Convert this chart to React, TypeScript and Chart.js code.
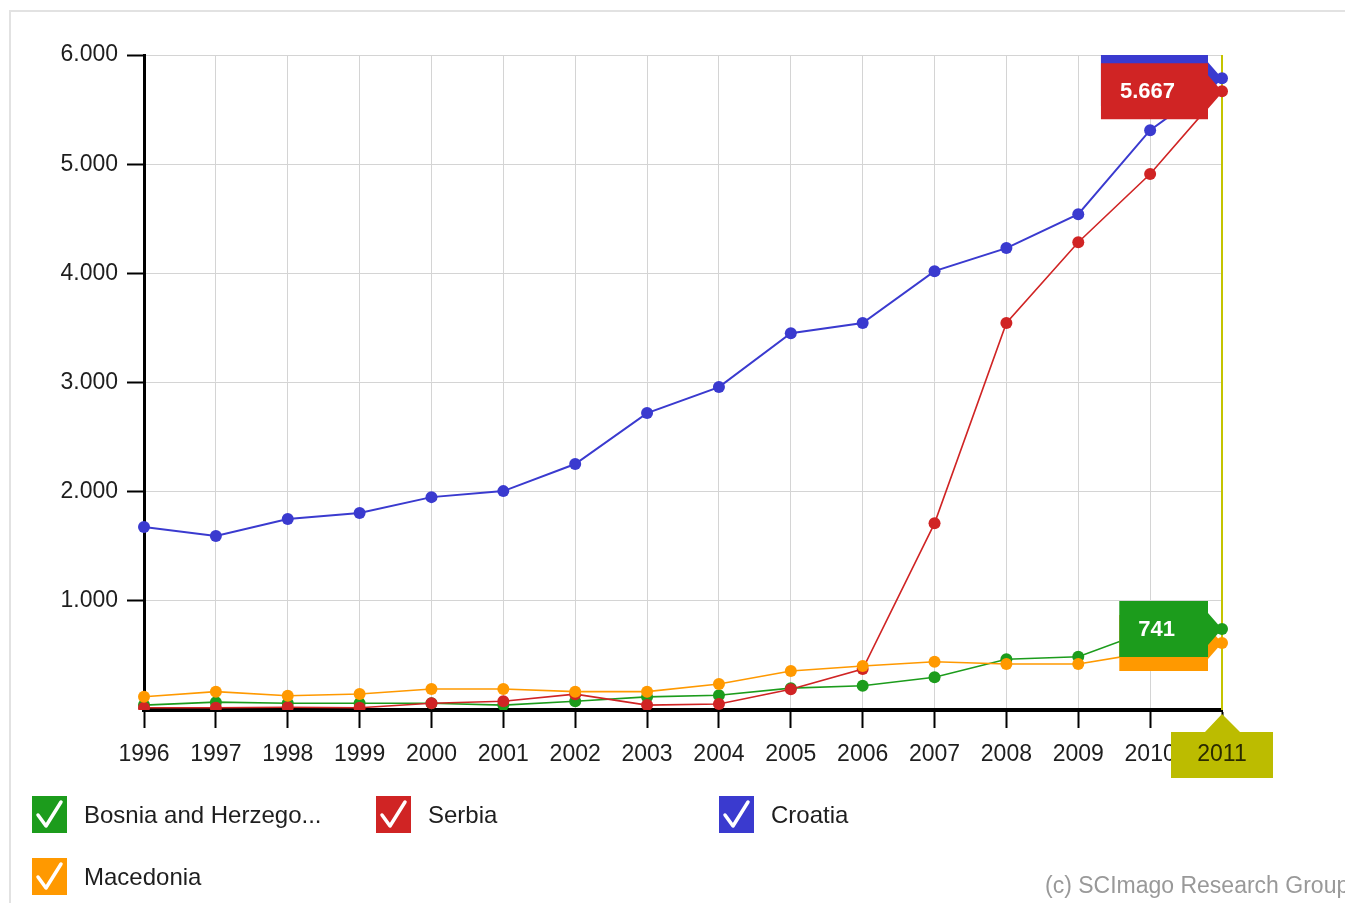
import { useEffect, useRef } from "react";
import { Chart, registerables } from "chart.js";

Chart.register(...registerables);

const years = ["1996", "1997", "1998", "1999", "2000", "2001", "2002", "2003", "2004", "2005", "2006", "2007", "2008", "2009", "2010", "2011"];
const bosnia = [45, 72, 62, 62, 62, 45, 80, 120, 135, 200, 222, 300, 465, 488, 730, 741];
const serbia = [20, 20, 25, 20, 62, 80, 145, 45, 55, 190, 375, 1710, 3545, 4285, 4910, 5667];
const croatia = [1676, 1593, 1749, 1804, 1950, 2005, 2253, 2720, 2958, 3452, 3544, 4020, 4231, 4542, 5311, 5788];
const macedonia = [122, 168, 131, 146, 192, 192, 168, 168, 238, 357, 403, 442, 421, 421, 530, 613];
const yTicks = [1000, 2000, 3000, 4000, 5000, 6000];

const GREEN = "#1c9c1c";
const RED = "#d02424";
const BLUE = "#3a3acf";
const ORANGE = "#ff9900";
const OLIVE = "#bcbc00";
const FONT = "'Liberation Sans', Arial, sans-serif";

const legendItems = [
  { label: "Bosnia and Herzego...", color: GREEN, left: 32, top: 796 },
  { label: "Serbia", color: RED, left: 376, top: 796 },
  { label: "Croatia", color: BLUE, left: 719, top: 796 },
  { label: "Macedonia", color: ORANGE, left: 32, top: 858 },
];

// 5667 -> "5.667"
const fmt = (v) => {
  const s = String(Math.round(v));
  return s.replace(/\B(?=(\d{3})+(?!\d))/g, ".");
};

// tag boxes at the last year, drawn in this order
const tagOrder = [2, 1, 3, 0];

const lastYearPlugin = {
  id: "lastYear",
  beforeDatasetsDraw(chart) {
    const { ctx, chartArea } = chart;
    const x = chart.scales.x.getPixelForValue(years.length - 1);
    ctx.save();
    ctx.strokeStyle = "#c4c400";
    ctx.lineWidth = 2;
    ctx.beginPath();
    ctx.moveTo(x, chartArea.top);
    ctx.lineTo(x, chartArea.bottom);
    ctx.stroke();
    ctx.restore();
  },
  afterDatasetsDraw(chart) {
    const { ctx, chartArea } = chart;
    const idx = years.length - 1;
    const x = chart.scales.x.getPixelForValue(idx);
    ctx.save();
    ctx.beginPath();
    ctx.rect(chartArea.left, chartArea.top, chartArea.width + 30, chartArea.height);
    ctx.clip();
    ctx.font = "bold 22px " + FONT;
    ctx.textAlign = "center";
    ctx.textBaseline = "middle";
    tagOrder.forEach((i) => {
      const ds = chart.data.datasets[i];
      const pt = chart.getDatasetMeta(i).data[idx];
      const y = pt.y;
      const text = fmt(ds.data[idx]);
      const w = ctx.measureText(text).width + 52;
      const right = x - 14;
      const left = right - w;
      ctx.fillStyle = ds.borderColor;
      ctx.beginPath();
      ctx.moveTo(left, y - 28);
      ctx.lineTo(right, y - 28);
      ctx.lineTo(right, y - 16);
      ctx.lineTo(x, y);
      ctx.lineTo(right, y + 16);
      ctx.lineTo(right, y + 28);
      ctx.lineTo(left, y + 28);
      ctx.closePath();
      ctx.fill();
      ctx.fillStyle = "#fff";
      ctx.fillText(text, left + w / 2 - 7, y + 1);
    });
    ctx.restore();
  },
  afterDraw(chart) {
    const { ctx, chartArea } = chart;
    const idx = years.length - 1;
    const x = chart.scales.x.getPixelForValue(idx);
    const top = chartArea.bottom + 22;
    ctx.save();
    ctx.fillStyle = OLIVE;
    ctx.beginPath();
    ctx.moveTo(x - 51, top);
    ctx.lineTo(x - 17, top);
    ctx.lineTo(x, chartArea.bottom + 4);
    ctx.lineTo(x + 18, top);
    ctx.lineTo(x + 51, top);
    ctx.lineTo(x + 51, top + 46);
    ctx.lineTo(x - 51, top + 46);
    ctx.closePath();
    ctx.fill();
    ctx.fillStyle = "#2a2a00";
    ctx.font = "23px " + FONT;
    ctx.textAlign = "center";
    ctx.textBaseline = "middle";
    ctx.fillText(years[idx], x, top + 23);
    ctx.restore();
  },
};

const CheckBox = ({ color }) => (
  <svg width="35" height="37" style={{ display: "block" }}>
    <rect x="0" y="0" width="35" height="37" fill={color} />
    <polyline points="6,19 14,30 29,6" fill="none" stroke="#fff" strokeWidth="3.5" strokeLinejoin="round" strokeLinecap="round" />
  </svg>
);

export default function App() {
  const ref = useRef(null);

  useEffect(() => {
    if (!ref.current) return;
    const line = (label, data, color, order, width) => ({
      label,
      data,
      borderColor: color,
      backgroundColor: color,
      borderWidth: width,
      pointRadius: 6,
      pointBorderWidth: 0,
      pointBackgroundColor: color,
      fill: false,
      tension: 0,
      order,
    });
    const chart = new Chart(ref.current, {
      type: "line",
      data: {
        labels: years,
        datasets: [
          line("Bosnia and Herzegovina", bosnia, GREEN, 2, 1.6),
          line("Serbia", serbia, RED, 1, 1.6),
          line("Croatia", croatia, BLUE, 3, 2),
          line("Macedonia", macedonia, ORANGE, 0, 1.6),
        ],
      },
      options: {
        animation: false,
        responsive: true,
        maintainAspectRatio: false,
        events: [],
        layout: { padding: { left: 0, top: 55, right: 123, bottom: 113 } },
        plugins: {
          legend: { display: false },
          tooltip: { enabled: false },
        },
        scales: {
          x: {
            offset: false,
            afterFit: (scale) => {
              scale.height = 80;
            },
            grid: {
              color: "#d4d4d4",
              lineWidth: 1,
              tickColor: "#000",
              tickWidth: 2,
              tickLength: 18,
            },
            border: { color: "#000", width: 4 },
            ticks: {
              color: "#1e1e1e",
              padding: 13,
              maxRotation: 0,
              autoSkip: false,
              font: { family: FONT, size: 23 },
            },
          },
          y: {
            min: 0,
            max: 6000,
            afterFit: (scale) => {
              scale.width = 144;
            },
            afterBuildTicks: (scale) => {
              scale.ticks = [0, ...yTicks].map((v) => ({ value: v }));
            },
            grid: {
              color: (c) => (c.tick && c.tick.value === 0 ? "rgba(0,0,0,0)" : "#d4d4d4"),
              lineWidth: 1,
              tickColor: (c) => (c.tick && c.tick.value === 0 ? "rgba(0,0,0,0)" : "#000"),
              tickWidth: 2,
              tickLength: 17,
            },
            border: { color: "#000", width: 3 },
            ticks: {
              color: "#1e1e1e",
              padding: 9,
              font: { family: FONT, size: 23 },
              callback: (v) => (v === 0 ? "" : fmt(v)),
            },
          },
        },
      },
      plugins: [lastYearPlugin],
    });
    return () => {
      chart.destroy();
    };
  }, []);

  return (
    <div style={{ position: "absolute", left: 0, top: 0, width: 1345, height: 903, overflow: "hidden", background: "#fff", fontFamily: FONT }}>
      <div style={{ position: "absolute", left: 9, top: 10, width: 1400, height: 1000, border: "2px solid #e2e2e2" }} />
      <div style={{ position: "absolute", left: 0, top: 0, width: 1345, height: 903 }}>
        <canvas ref={ref}></canvas>
      </div>
      {legendItems.map((it) => (
        <div key={it.label} style={{ position: "absolute", left: it.left, top: it.top, display: "flex", alignItems: "center", height: 37 }}>
          <CheckBox color={it.color} />
          <span style={{ marginLeft: 17, fontSize: 24, color: "#1e1e1e", whiteSpace: "nowrap" }}>{it.label}</span>
        </div>
      ))}
      <div style={{ position: "absolute", left: 1045, top: 872, fontSize: 23, color: "#999", whiteSpace: "nowrap" }}>
        (c) SCImago Research Group
      </div>
    </div>
  );
}
